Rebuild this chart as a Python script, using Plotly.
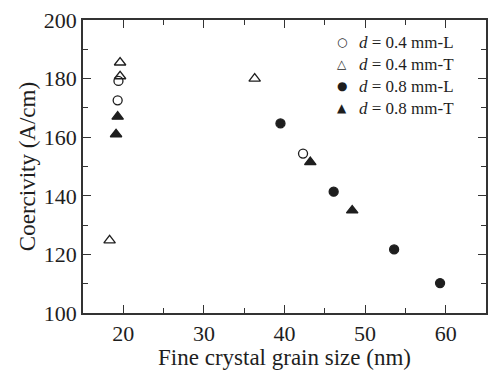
import plotly.graph_objects as go

# Data
x_04L = [19.4, 19.3, 42.3]
y_04L = [179.2, 172.6, 154.4]
x_04T = [19.6, 19.6, 36.3, 18.3]
y_04T = [185.5, 180.8, 180.0, 124.8]
x_08L = [39.5, 46.1, 53.6, 59.3]
y_08L = [164.7, 141.4, 121.7, 110.2]
x_08T = [19.3, 19.1, 43.2, 48.4]
y_08T = [167.0, 161.0, 151.5, 135.0]

labels = ["<i>d</i> = 0.4 mm-L", "<i>d</i> = 0.4 mm-T",
          "<i>d</i> = 0.8 mm-L", "<i>d</i> = 0.8 mm-T"]
legend_glyphs = ["\u25CB", "\u25B3", "\u25CF", "\u25B2"]

FONT = "Liberation Serif, Times New Roman, serif"
INK = "#1e1e1e"

series = [
    (x_04L, y_04L, "circle-open"),
    (x_04T, y_04T, "triangle-up-open"),
    (x_08L, y_08L, "circle"),
    (x_08T, y_08T, "triangle-up"),
]

fig = go.Figure()
for (xs, ys, sym), lab in zip(series, labels):
    fig.add_trace(go.Scatter(
        x=xs, y=ys, mode="markers", name=lab, showlegend=False,
        marker=dict(symbol=sym, size=10 if "triangle" in sym else 9,
                    color=INK, line=dict(color=INK, width=1.3)),
    ))

# manual legend (tight line spacing like the reference)
top_px, plot_h, left_px, plot_w = 20, 293, 83, 405
row0, step = 42, 22
for i, (g, lab) in enumerate(zip(legend_glyphs, labels)):
    ypx = row0 + i * step
    yp = 1 - (ypx - top_px) / plot_h
    fig.add_annotation(x=(343 - left_px) / plot_w, y=yp, xref="paper", yref="paper",
                       text=g, showarrow=False, xanchor="center", yanchor="middle",
                       font=dict(family="DejaVu Sans", size=12, color=INK))
    fig.add_annotation(x=(358 - left_px) / plot_w, y=yp, xref="paper", yref="paper",
                       text=lab, showarrow=False, xanchor="left", yanchor="middle",
                       font=dict(family=FONT, size=17, color=INK))

axis_common = dict(
    showline=True, linecolor="#333", linewidth=1.5, mirror="ticks",
    ticks="inside", ticklen=8, tickwidth=1.3, tickcolor="#333",
    showgrid=False, zeroline=False,
    tickfont=dict(family=FONT, size=22, color=INK),
)

fig.update_xaxes(
    range=[15, 65], tick0=0, dtick=10,
    minor=dict(ticks="inside", ticklen=5, tickwidth=1.3, tickcolor="#333", dtick=5, tick0=0, showgrid=False),
    title=dict(text="Fine crystal grain size (nm)", font=dict(family=FONT, size=23, color=INK), standoff=4),
    **axis_common,
)
fig.update_yaxes(
    range=[100, 200], tick0=0, dtick=20,
    minor=dict(ticks="inside", ticklen=5, tickwidth=1.3, tickcolor="#333", dtick=10, tick0=0, showgrid=False),
    title=dict(text="Coercivity (A/cm)", font=dict(family=FONT, size=23, color=INK), standoff=2),
    **axis_common,
)

fig.update_layout(
    width=490, height=370,
    margin=dict(l=83, r=2, t=20, b=57),
    plot_bgcolor="white", paper_bgcolor="white",
    showlegend=False,
)

fig.write_html("out.html")
